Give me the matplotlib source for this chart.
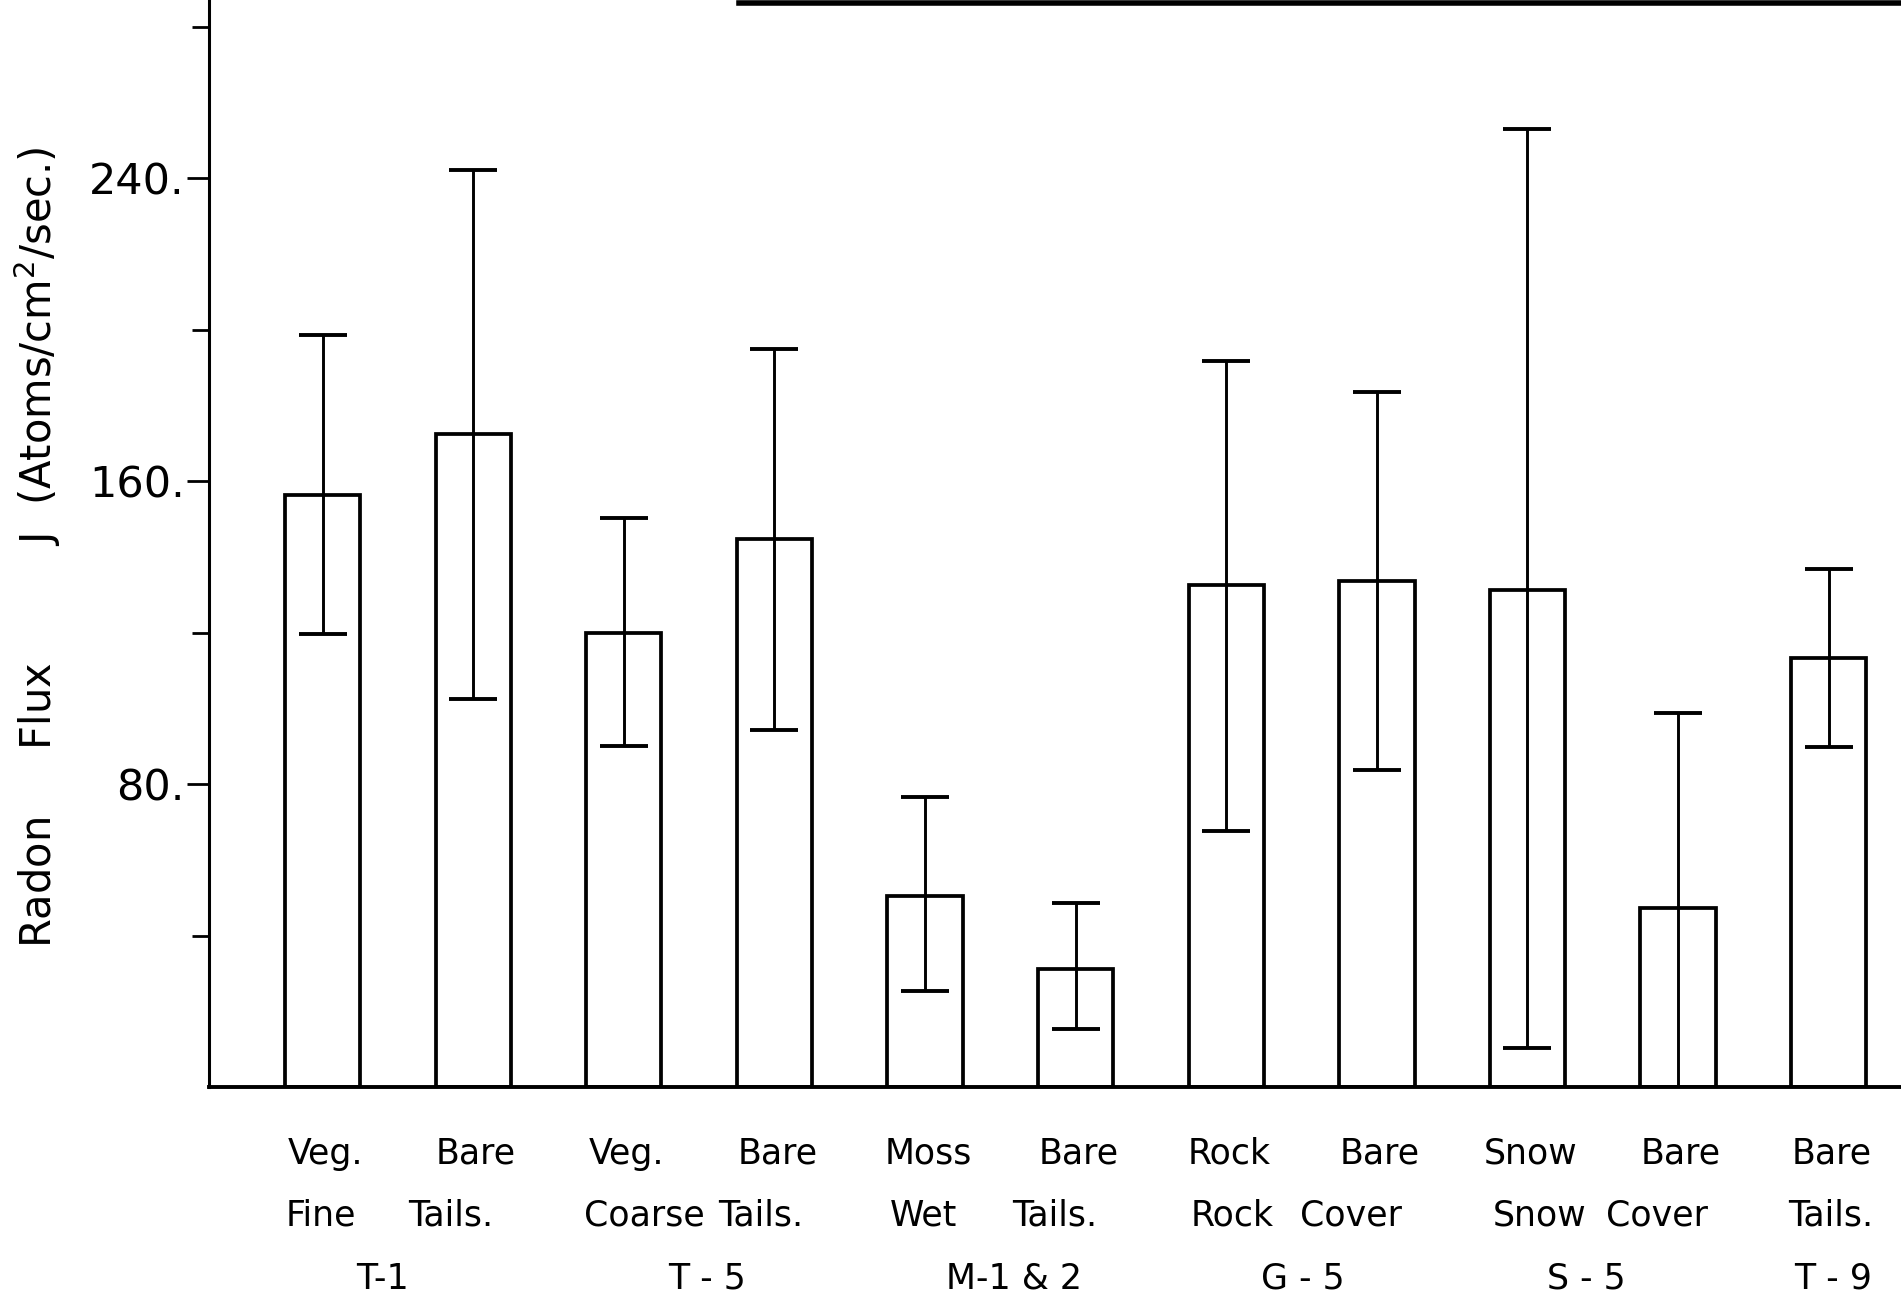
import matplotlib
matplotlib.use("Agg")
import numpy as np
from matplotlib import pyplot as plt
from matplotlib.lines import Line2D

# Radon flux per site / surface, bar = mean, whiskers = low..high

# bar labels, row 1 and row 2 under each bar
top_words = ["Veg.", "Bare", "Veg.", "Bare", "Moss", "Bare",
             "Rock", "Bare", "Snow", "Bare", "Bare"]
mid_words = ["Fine", "Tails.", "Coarse", "Tails.", "Wet", "Tails.",
             "Rock", "Cover", "Snow", "Cover", "Tails."]

# site names (row 3) and which bars belong to them
sites = ["T-1", "T - 5", "M-1 & 2", "G - 5", "S - 5", "T - 9"]
site_bars = [[0, 1], [2, 3], [4, 5], [6, 7], [8, 9], [10]]

# flux J (atoms/cm2/sec)
flux_mean = [156.3, 172.4, 120.0, 144.8, 50.4, 31.1, 132.6, 133.5, 131.3, 47.2, 113.3]
flux_low = [119.7, 102.4, 90.2, 94.4, 25.4, 15.4, 67.7, 83.8, 10.3, -4.5, 89.9]
flux_high = [198.7, 242.0, 150.2, 194.9, 76.7, 48.5, 191.7, 183.6, 253.0, 98.9, 136.8]

major_ticks = [80, 160, 240]
major_labels = ["80.", "160.", "240."]
minor_ticks = [40, 120, 200, 280]

plt.rcParams['font.family'] = ['DejaVu Sans']

fig = plt.figure(figsize=(19.01, 13.03), dpi=100)
ax = fig.add_axes([0.1097, 0.1656, 0.8903, 0.8344])

x = np.arange(len(flux_mean))
mean = np.array(flux_mean)
yerr = [mean - np.array(flux_low), np.array(flux_high) - mean]

ax.bar(x, mean, width=0.5, color='white', edgecolor='black', linewidth=2.7, zorder=2)
ax.errorbar(x, mean, yerr=yerr, fmt='none', ecolor='black', elinewidth=2.1,
            capsize=17, capthick=2.8, zorder=3)

ax.set_xlim(-0.757, 10.48)
ax.set_ylim(0, 287)

ax.spines['top'].set_visible(False)
ax.spines['right'].set_visible(False)
ax.spines['left'].set_linewidth(2.2)
ax.spines['bottom'].set_linewidth(2.8)

ax.set_xticks([])
ax.set_yticks(major_ticks)
ax.set_yticklabels(major_labels)
ax.set_yticks(minor_ticks, minor=True)
ax.tick_params(axis='y', which='major', length=16, width=2, labelsize=31, pad=1)
ax.tick_params(axis='y', which='minor', length=12, width=2)

ax.set_ylabel("Radon     Flux         J  (Atoms/cm$^2$/sec.)", fontsize=30)
ax.yaxis.set_label_coords(-0.086, 0.497)

# label rows below the bars
tr = ax.get_xaxis_transform()
mid_shift = [-0.01, -0.15, 0.14, -0.09, -0.01, -0.14, 0.04, -0.17, 0.08, -0.14, 0.01]
for i in range(len(top_words)):
    ax.text(x[i] + 0.02, -0.061, top_words[i], transform=tr, ha='center', va='center',
            fontsize=25, clip_on=False)
    ax.text(x[i] + mid_shift[i], -0.118, mid_words[i], transform=tr, ha='center',
            va='center', fontsize=25, clip_on=False)

site_shift = [-0.1, 0.05, 0.09, 0.01, -0.11, 0.03]
for name, bars, dx in zip(sites, site_bars, site_shift):
    ax.text(np.mean(x[bars]) + dx, -0.176, name, transform=tr, ha='center', va='center',
            fontsize=25, clip_on=False)

# edge of the scanned page at the top
fig.add_artist(Line2D([0.389, 1.0], [0.998, 0.998], color='black', linewidth=4))

plt.savefig("out.png", dpi=100)
